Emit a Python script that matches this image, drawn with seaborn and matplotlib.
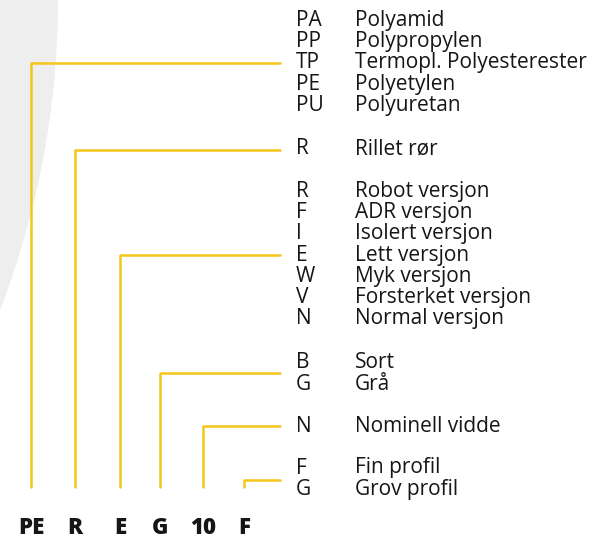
import matplotlib
matplotlib.use("Agg")
import matplotlib.pyplot as plt
import seaborn as sns
import pandas as pd
from matplotlib.patches import Circle

# ---- data ----
bottom_labels = ["PE", "R", "E", "G", "10", "F"]
group_codes = [
    ["PA", "PP", "TP", "PE", "PU"],
    ["R"],
    ["R", "F", "I", "E", "W", "V", "N"],
    ["B", "G"],
    ["N"],
    ["F", "G"],
]
group_names = [
    ["Polyamid", "Polypropylen", "Termopl. Polyesterester", "Polyetylen", "Polyuretan"],
    ["Rillet rør"],
    ["Robot versjon", "ADR versjon", "Isolert versjon", "Lett versjon",
     "Myk versjon", "Forsterket versjon", "Normal versjon"],
    ["Sort", "Grå"],
    ["Nominell vidde"],
    ["Fin profil", "Grov profil"],
]

# ---- layout ----
sns.set_theme(style="white")
plt.rcParams["font.family"] = ["Open Sans", "DejaVu Sans"]

W, H = 604, 540
fig = plt.figure(figsize=(W / 100, H / 100), dpi=100)
ax = fig.add_axes([0, 0, 1, 1])

# background arc
ax.add_patch(Circle((-799, 0), 857, facecolor="#eeeeee", edgecolor="none", zorder=0))

yellow = "#f5c518"
ink = "#161616"
line_x = [31, 75, 120, 160, 203, 244]
group_start = [18, 146.5, 189, 360.5, 424.5, 465.5]
connector_y = [63, 150, 255, 373, 426, 480]
row_h = 21.2
code_x, name_x, end_x, bottom_y = 296, 355, 280, 487

rows = []
for gi, (codes, names) in enumerate(zip(group_codes, group_names)):
    for ri, (c, n) in enumerate(zip(codes, names)):
        y = group_start[gi] + ri * row_h
        ax.text(code_x, y, c, fontsize=15, va="center_baseline", ha="left", color=ink)
        ax.text(name_x, y, n, fontsize=15, va="center_baseline", ha="left", color=ink)
    ytop = connector_y[gi]
    rows += [dict(seg=gi, x=line_x[gi], y=bottom_y),
             dict(seg=gi, x=line_x[gi], y=ytop),
             dict(seg=gi, x=end_x, y=ytop)]

df = pd.DataFrame(rows)
sns.lineplot(data=df, x="x", y="y", units="seg", estimator=None, sort=False,
             color=yellow, linewidth=1.8, ax=ax, legend=False)

for lab, x in zip(bottom_labels, line_x):
    ax.text(x, 528.5, lab, fontsize=16, fontweight="heavy", ha="center",
            va="center", color=ink)

ax.set_xlim(0, W)
ax.set_ylim(H, 0)
ax.axis("off")

fig.savefig("out.png", dpi=100)
